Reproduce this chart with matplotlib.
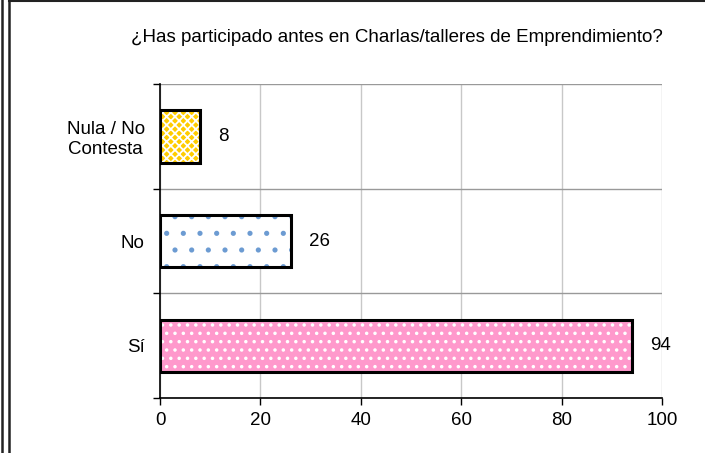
import matplotlib
matplotlib.use("Agg")
import matplotlib.pyplot as plt
from matplotlib.lines import Line2D

plt.rcParams["font.family"] = ["Liberation Sans", "DejaVu Sans"]
plt.rcParams["hatch.linewidth"] = 1.3

TITLE = "¿Has participado antes en Charlas/talleres de Emprendimiento?"
categories = ["Sí", "No", "Nula / No\nContesta"]
values = [94, 26, 8]
face_colors = ["#FF99CC", "#FFFFFF", "#FFCC00"]
hatch_colors = ["#FFFFFF", "#6C9BD2", "#FFFFFF"]
hatches = ["..", ".", "xxxx"]
x_ticks = [0, 20, 40, 60, 80, 100]

FS = 13.5

fig = plt.figure(figsize=(7.05, 4.53), dpi=100)
ax = fig.add_axes([160 / 705, 55 / 453, 502 / 705, 314 / 453])

pos = list(range(len(categories)))
for p, v, fc, hc, h in zip(pos, values, face_colors, hatch_colors, hatches):
    # fill + hatch (hatch colour follows edgecolor), then a black outline on top
    ax.barh(p, v, height=0.5, color=fc, edgecolor=hc, hatch=h, linewidth=0, zorder=3)
    ax.barh(p, v, height=0.5, fill=False, edgecolor="black", linewidth=2.2, zorder=4)
    ax.text(v + 3.6, p, str(v), va="center", ha="left", fontsize=FS, zorder=5)

ax.set_xlim(0, 100)
ax.set_ylim(-0.5, 2.5)
ax.set_xticks(x_ticks)
ax.set_xticklabels([str(t) for t in x_ticks], fontsize=FS)
ax.tick_params(axis="x", direction="out", length=5, width=1, pad=5)

ax.set_yticks([-0.5, 0.5, 1.5, 2.5])
ax.set_yticklabels([])
ax.set_yticks(pos, minor=True)
ax.set_yticklabels(categories, minor=True, fontsize=FS, multialignment="center")
ax.tick_params(axis="y", which="major", direction="out", length=5, width=1)
ax.tick_params(axis="y", which="minor", length=0, pad=11)

ax.grid(axis="x", color="#C8C8C8", linewidth=1, zorder=0)
ax.grid(axis="y", which="major", color="#999999", linewidth=1, zorder=0)
for s in ["top", "right"]:
    ax.spines[s].set_visible(False)
ax.spines["left"].set_linewidth(1.2)
ax.spines["bottom"].set_linewidth(1.2)
ax.spines["left"].set_zorder(6)

fig.text(397 / 705, 1 - 38 / 453, TITLE, ha="center", va="center", fontsize=FS)

# page / chart frame lines
fig.add_artist(Line2D([1.5 / 705, 1.5 / 705], [0, 1], transform=fig.transFigure, color="#222222", lw=1.8))
fig.add_artist(Line2D([8.5 / 705, 8.5 / 705], [0, 1], transform=fig.transFigure, color="#222222", lw=1.8))
fig.add_artist(Line2D([8.5 / 705, 1], [1 - 1 / 453, 1 - 1 / 453], transform=fig.transFigure, color="#222222", lw=1.5))

fig.savefig("out.png", dpi=100)
